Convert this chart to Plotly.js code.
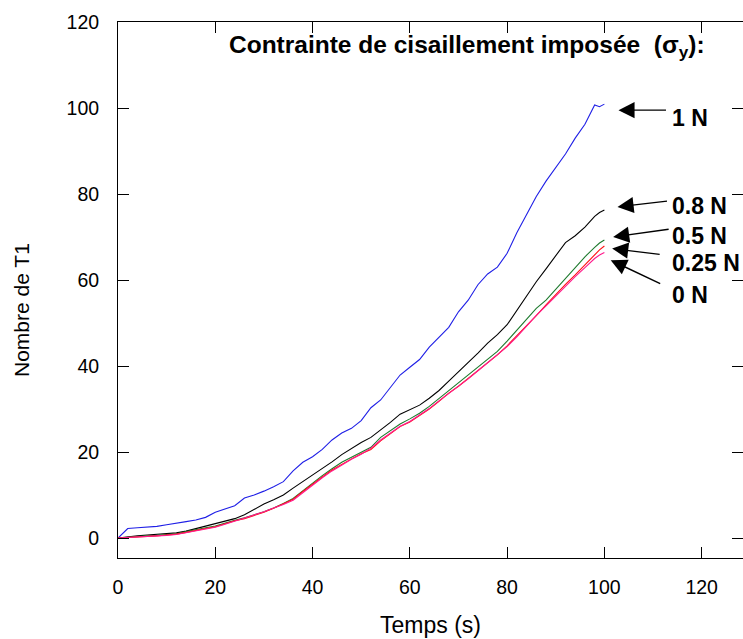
<!DOCTYPE html>
<html>
<head>
<meta charset="utf-8">
<script src="https://cdn.plot.ly/plotly-3.0.1.min.js"></script>
<style>html,body{margin:0;padding:0;background:#fff;}#chart{width:743px;height:639px;}</style>
</head>
<body>
<div id="chart"></div>
<script>
// Time (s)
const temps = [0,2,4,6,8,10,12,14,16,18,20,22,24,26,28,30,32,34,36,38,40,42,44,46,48,50,52,54,56,58,60,62,64,66,68,70,72,74,76,78,80,82,84,86,88,90,92,94,96,98,99,100];

// Number of T1 events per imposed shear stress
const n1N = [0,2.2,2.4,2.5,2.7,3.1,3.4,3.8,4.2,4.8,6.0,6.8,7.5,9.3,10.0,10.9,11.9,13.1,15.6,17.6,18.9,20.6,22.8,24.4,25.5,27.3,30.3,32.1,35.0,37.9,39.7,41.5,44.4,46.6,49.0,52.6,55.3,58.9,61.4,63.0,66.2,71.0,75.2,79.4,83.0,86.2,89.3,93.0,96.2,100.7,100.3,100.9];
const n08N = [0,0.3,0.5,0.7,0.9,1.1,1.2,1.6,2.2,2.8,3.4,3.9,4.5,5.4,6.6,7.9,8.9,10.0,11.6,13.1,14.6,16.1,17.7,19.4,20.9,22.2,23.4,25.1,26.9,28.8,29.8,30.9,32.5,34.3,36.5,38.6,40.7,43.0,45.3,47.3,49.6,53.0,56.3,59.6,62.6,65.6,68.7,70.3,72.3,74.8,75.7,76.3];
const n05N = [0,0.2,0.4,0.5,0.6,0.8,1.0,1.5,2.0,2.4,2.8,3.5,4.1,4.7,5.4,6.1,7.0,8.0,9.2,11.0,12.9,14.5,16.1,17.6,18.8,19.9,21.1,23.4,25.0,26.5,27.7,29.0,30.6,32.4,34.2,36.0,37.9,39.6,41.6,43.4,45.8,48.3,51.0,53.4,55.3,57.8,60.3,63.0,65.4,67.6,68.6,69.3];
const n025N = [0,0.1,0.3,0.4,0.5,0.7,0.9,1.3,1.8,2.2,2.6,3.3,4.0,4.5,5.2,6.0,6.9,7.9,9.0,10.8,12.6,14.2,15.8,17.2,18.4,19.6,20.6,22.6,24.3,25.9,27.0,28.4,30.0,31.8,33.7,35.3,37.1,38.8,40.7,42.6,44.7,47.0,49.4,51.7,54.2,56.7,59.0,61.2,63.6,66.0,67.0,67.9];
const n0N = [0,0.1,0.2,0.3,0.4,0.6,0.8,1.2,1.7,2.1,2.5,3.2,3.9,4.6,5.3,6.1,7.0,7.8,8.8,10.6,12.4,14.0,15.6,17.0,18.3,19.5,20.9,22.8,24.5,26.0,27.1,28.5,30.1,31.9,33.6,35.2,37.0,38.9,40.8,42.6,44.5,46.8,49.3,51.8,54.0,56.3,58.6,60.8,62.9,65.0,65.8,66.4];

const seriesNames = ['1 N','0.8 N','0.5 N','0.25 N','0 N'];
const seriesValues = [n1N, n08N, n05N, n025N, n0N];
const seriesColors = ['#1f1fe6','#000000','#1e7a2e','#ff1010','#ff1a8c'];

// Arrow tips (data coords) and tail offsets (px), label positions
const arrowTipX = [102.9, 102.7, 101.8, 101.6, 101.3];
const arrowTipY = [99.5, 77.0, 70.0, 67.3, 64.6];
const arrowAx = [49, 51, 57, 49, 51];
const arrowAy = [0, -6, -8, 6, 24];
const labelX = 113.4;
const labelY = [97.7, 77.2, 70.2, 64.0, 56.5];

const xTicks = [0,20,40,60,80,100,120];
const yTicks = [0,20,40,60,80,100,120];

const traces = seriesValues.map((v, i) => ({
  x: temps, y: v, type: 'scatter', mode: 'lines', name: seriesNames[i],
  line: {color: seriesColors[i], width: 1.1}
}));

const annotations = [];
seriesNames.forEach((n, i) => {
  annotations.push({
    x: arrowTipX[i], y: arrowTipY[i], xref: 'x', yref: 'y',
    text: '', showarrow: true, arrowhead: 2, arrowsize: 2.3, arrowwidth: 1.4,
    arrowcolor: '#000', ax: arrowAx[i], ay: arrowAy[i]
  });
  annotations.push({
    x: labelX, y: labelY[i], xref: 'x', yref: 'y', text: '<b>' + n + '</b>',
    showarrow: false, xanchor: 'left', yanchor: 'middle',
    font: {family: 'Liberation Sans, Arial, sans-serif', size: 23, color: '#000'}
  });
});
annotations.push({
  x: 22.4, y: 114.3, xref: 'x', yref: 'y',
  text: '<b>Contrainte de cisaillement imposée  (σ<sub>y</sub>):</b>',
  showarrow: false, xanchor: 'left', yanchor: 'middle',
  font: {family: 'Liberation Sans, Arial, sans-serif', size: 24.5, color: '#000'}
});
annotations.push({
  x: -0.1536, y: 0.4627, xref: 'paper', yref: 'paper', text: 'Nombre de T1',
  textangle: -90, showarrow: false, xanchor: 'center', yanchor: 'middle',
  font: {family: 'Liberation Sans, Arial, sans-serif', size: 21, color: '#000'}
});

const layout = {
  width: 743, height: 639,
  margin: {l: 118, r: 0, t: 22, b: 81, pad: 0},
  paper_bgcolor: '#fff', plot_bgcolor: '#fff',
  showlegend: false,
  font: {family: 'Liberation Sans, Arial, sans-serif', size: 19.5, color: '#000'},
  xaxis: {
    range: [0, 128.5], tickvals: xTicks, ticks: 'inside', ticklen: 11, tickcolor: '#000',
    showline: true, linecolor: '#000', linewidth: 1, mirror: 'ticks', showgrid: false, zeroline: false,
    ticklabelstandoff: 12,
    title: {text: 'Temps (s)', font: {size: 23}, standoff: 19}
  },
  yaxis: {
    range: [-4.65, 120], tickvals: yTicks, ticks: 'inside', ticklen: 11, tickcolor: '#000',
    showline: true, linecolor: '#000', linewidth: 1, mirror: 'ticks', showgrid: false, zeroline: false,
    ticklabelstandoff: 14
  },
  annotations: annotations
};

Plotly.newPlot('chart', traces, layout, {displayModeBar: false, staticPlot: true});
</script>
</body>
</html>
